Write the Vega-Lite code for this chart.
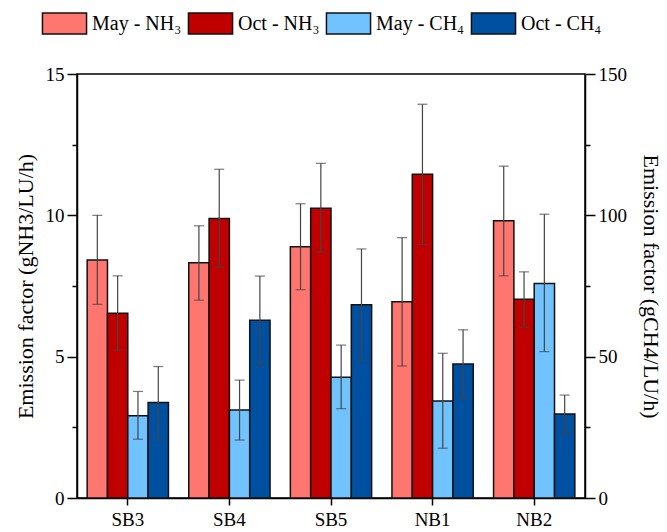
{
  "$schema": "https://vega.github.io/schema/vega-lite/v6.json",
  "width": 508,
  "height": 424,
  "autosize": "none",
  "padding": {"left": 77, "top": 74, "right": 82, "bottom": 34},
  "background": "white",
  "config": {
    "font": "Liberation Serif",
    "view": {"stroke": "black", "strokeWidth": 1.5},
    "axis": {"grid": false, "domainColor": "black", "domainWidth": 1.5, "tickColor": "black", "tickWidth": 1.5, "labelColor": "black", "titleColor": "black", "labelFont": "Liberation Serif", "titleFont": "Liberation Serif", "labelFontSize": 19, "titleFontSize": 22, "titleFontWeight": "normal"}
  },
  "data": {"values": [
    {"site": "SB3", "series": "May - NH₃", "gas": "NH3", "value": 8.42, "lo": 6.85, "hi": 10.0},
    {"site": "SB3", "series": "Oct - NH₃", "gas": "NH3", "value": 6.54, "lo": 5.24, "hi": 7.86},
    {"site": "SB3", "series": "May - CH₄", "gas": "CH4", "value": 29.1, "lo": 20.8, "hi": 37.7},
    {"site": "SB3", "series": "Oct - CH₄", "gas": "CH4", "value": 33.8, "lo": 21.0, "hi": 46.5},
    {"site": "SB4", "series": "May - NH₃", "gas": "NH3", "value": 8.32, "lo": 7.0, "hi": 9.63},
    {"site": "SB4", "series": "Oct - NH₃", "gas": "NH3", "value": 9.89, "lo": 8.17, "hi": 11.63},
    {"site": "SB4", "series": "May - CH₄", "gas": "CH4", "value": 31.1, "lo": 20.5, "hi": 41.7},
    {"site": "SB4", "series": "Oct - CH₄", "gas": "CH4", "value": 62.9, "lo": 47.0, "hi": 78.5},
    {"site": "SB5", "series": "May - NH₃", "gas": "NH3", "value": 8.89, "lo": 7.37, "hi": 10.41},
    {"site": "SB5", "series": "Oct - NH₃", "gas": "NH3", "value": 10.25, "lo": 8.7, "hi": 11.84},
    {"site": "SB5", "series": "May - CH₄", "gas": "CH4", "value": 42.7, "lo": 31.6, "hi": 54.1},
    {"site": "SB5", "series": "Oct - CH₄", "gas": "CH4", "value": 68.4, "lo": 48.7, "hi": 88.1},
    {"site": "NB1", "series": "May - NH₃", "gas": "NH3", "value": 6.94, "lo": 4.67, "hi": 9.21},
    {"site": "NB1", "series": "Oct - NH₃", "gas": "NH3", "value": 11.45, "lo": 8.97, "hi": 13.93},
    {"site": "NB1", "series": "May - CH₄", "gas": "CH4", "value": 34.3, "lo": 17.6, "hi": 51.2},
    {"site": "NB1", "series": "Oct - CH₄", "gas": "CH4", "value": 47.4, "lo": 35.1, "hi": 59.5},
    {"site": "NB2", "series": "May - NH₃", "gas": "NH3", "value": 9.81, "lo": 7.86, "hi": 11.74},
    {"site": "NB2", "series": "Oct - NH₃", "gas": "NH3", "value": 7.03, "lo": 6.04, "hi": 8.0},
    {"site": "NB2", "series": "May - CH₄", "gas": "CH4", "value": 75.9, "lo": 51.8, "hi": 100.4},
    {"site": "NB2", "series": "Oct - CH₄", "gas": "CH4", "value": 29.7, "lo": 22.9, "hi": 36.4}
  ]},
  "encoding": {
    "x": {"field": "site", "type": "nominal", "sort": ["SB3", "SB4", "SB5", "NB1", "NB2"],
      "scale": {"paddingInner": 0.2, "paddingOuter": 0.1},
      "axis": {"title": null, "labelAngle": 0, "tickSize": 7, "labelPadding": 5, "labelFontSize": 19}},
    "xOffset": {"field": "series", "type": "nominal",
      "scale": {"domain": ["May - NH₃", "Oct - NH₃", "May - CH₄", "Oct - CH₄"], "paddingInner": 0, "paddingOuter": 0}}
  },
  "layer": [
    {
      "transform": [{"filter": "datum.gas == 'NH3'"}],
      "layer": [
        {
          "mark": {"type": "bar", "stroke": "#111111", "strokeWidth": 1.5},
          "encoding": {
            "y": {"field": "value", "type": "quantitative",
              "scale": {"domain": [0, 15], "nice": false},
              "axis": {"orient": "left", "title": "Emission factor (gNH3/LU/h)", "values": [0, 2.5, 5, 7.5, 10, 12.5, 15],
                "labelExpr": "datum.value % 5 == 0 ? datum.label : ''",
                "tickSize": {"condition": {"test": "datum.value % 5 == 0", "value": 10}, "value": 5},
                "labelPadding": 3, "titlePadding": 8}},
            "color": {"field": "series", "type": "nominal",
              "scale": {"domain": ["May - NH₃", "Oct - NH₃", "May - CH₄", "Oct - CH₄"], "range": ["#FF7670", "#C00000", "#70C3FF", "#0050A2"]},
              "legend": {"title": null, "orient": "none", "legendX": -24, "legendY": -62, "direction": "horizontal", "columns": 4,
                "symbolType": "M-2.1,-1L2.1,-1L2.1,1L-2.1,1Z", "symbolSize": 441, "symbolStrokeColor": "#333333", "symbolStrokeWidth": 1.5, "symbolOpacity": 1,
                "labelFontSize": 20, "labelFont": "Liberation Serif", "labelColor": "black", "labelOffset": 16, "columnPadding": 3, "labelLimit": 200}}
          }
        },
        {
          "mark": {"type": "rule", "color": "#444444", "strokeWidth": 1.2},
          "encoding": {"y": {"field": "lo", "type": "quantitative"}, "y2": {"field": "hi"}}
        },
        {
          "mark": {"type": "tick", "color": "#444444", "thickness": 1.2, "size": 10},
          "encoding": {"y": {"field": "lo", "type": "quantitative"}}
        },
        {
          "mark": {"type": "tick", "color": "#444444", "thickness": 1.2, "size": 10},
          "encoding": {"y": {"field": "hi", "type": "quantitative"}}
        }
      ]
    },
    {
      "transform": [{"filter": "datum.gas == 'CH4'"}],
      "layer": [
        {
          "mark": {"type": "bar", "stroke": "#111111", "strokeWidth": 1.5},
          "encoding": {
            "y": {"field": "value", "type": "quantitative",
              "scale": {"domain": [0, 150], "nice": false},
              "axis": {"orient": "right", "title": "Emission factor (gCH4/LU/h)", "values": [0, 25, 50, 75, 100, 125, 150],
                "labelExpr": "datum.value % 50 == 0 ? datum.label : ''",
                "tickSize": {"condition": {"test": "datum.value % 50 == 0", "value": 10}, "value": 5},
                "labelPadding": 3, "titlePadding": 12}},
            "color": {"field": "series", "type": "nominal"}
          }
        },
        {
          "mark": {"type": "rule", "color": "#444444", "strokeWidth": 1.2},
          "encoding": {"y": {"field": "lo", "type": "quantitative"}, "y2": {"field": "hi"}}
        },
        {
          "mark": {"type": "tick", "color": "#444444", "thickness": 1.2, "size": 10},
          "encoding": {"y": {"field": "lo", "type": "quantitative"}}
        },
        {
          "mark": {"type": "tick", "color": "#444444", "thickness": 1.2, "size": 10},
          "encoding": {"y": {"field": "hi", "type": "quantitative"}}
        }
      ]
    }
  ],
  "resolve": {"scale": {"y": "independent"}}
}
